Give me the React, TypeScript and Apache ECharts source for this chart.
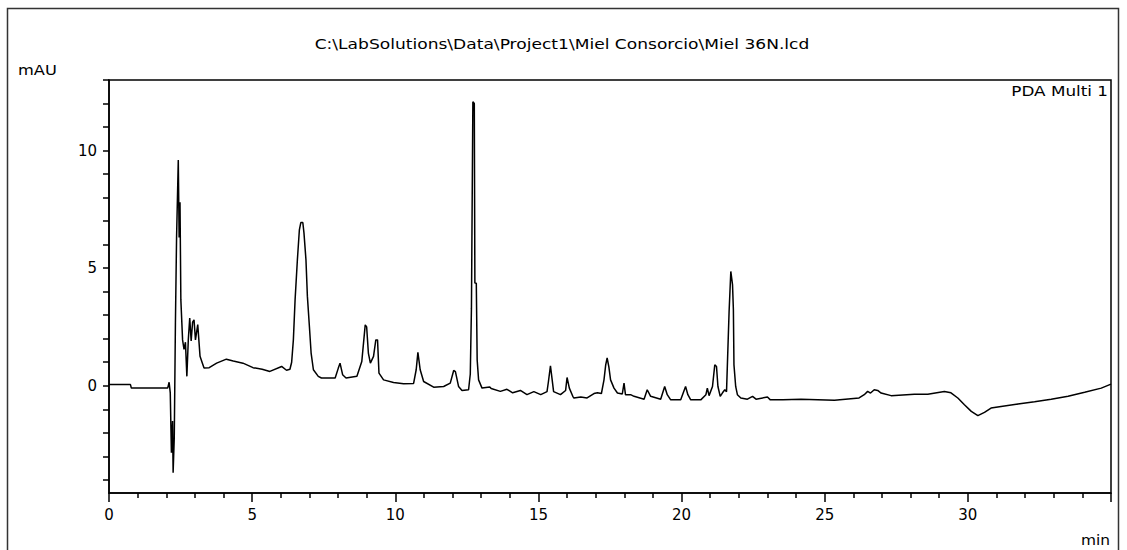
import React, { useEffect, useRef } from "react";
import * as echarts from "echarts";

const titleText = "C:\\LabSolutions\\Data\\Project1\\Miel Consorcio\\Miel 36N.lcd";
const yUnit = "mAU";
const xUnit = "min";
const channelLabel = "PDA Multi 1";

const xLabelValues = [0, 5, 10, 15, 20, 25, 30];
const yLabelValues = [0, 5, 10];
const yTickValues = [-4, -3, -2, -1, 0, 1, 2, 3, 4, 5, 6, 7, 8, 9, 10, 11, 12, 13];

const times = [
  0.0, 0.75, 0.78, 2.05, 2.1, 2.14, 2.18, 2.22, 2.24, 2.28, 2.32, 2.36, 2.42, 2.45, 2.48, 2.51,
  2.57, 2.62, 2.67, 2.72, 2.77, 2.82, 2.87, 2.92, 2.97, 3.02, 3.1, 3.18, 3.25, 3.32, 3.5, 3.76,
  4.1, 4.34, 4.68, 5.03, 5.35, 5.62, 6.03, 6.2, 6.32, 6.38, 6.44, 6.5, 6.58, 6.65, 6.7, 6.77,
  6.81, 6.88, 6.93, 7.0, 7.06, 7.14, 7.31, 7.42, 7.9, 8.01, 8.07, 8.16, 8.28, 8.66, 8.83, 8.89,
  8.95, 9.0, 9.06, 9.13, 9.24, 9.32, 9.38, 9.43, 9.59, 9.94, 10.29, 10.64, 10.73, 10.79, 10.87, 10.99,
  11.34, 11.69, 11.92, 12.04, 12.1, 12.21, 12.33, 12.56, 12.62, 12.66, 12.71, 12.76, 12.78, 12.83, 12.86, 12.91,
  13.03, 13.3, 13.35, 13.67, 13.9, 14.1, 14.37, 14.6, 14.84, 15.08, 15.3, 15.35, 15.42, 15.48, 15.53, 15.77,
  15.95, 16.0, 16.08, 16.2, 16.24, 16.48, 16.7, 16.94, 17.06, 17.2, 17.29, 17.35, 17.4, 17.46, 17.52, 17.64,
  17.76, 17.93, 17.99, 18.04, 18.22, 18.34, 18.69, 18.8, 18.92, 19.27, 19.41, 19.5, 19.62, 19.97, 20.14, 20.22,
  20.32, 20.67, 20.85, 20.9, 20.96, 21.08, 21.16, 21.22, 21.27, 21.35, 21.43, 21.51, 21.57, 21.66, 21.72, 21.78,
  21.81, 21.83, 21.89, 21.95, 22.07, 22.3, 22.48, 22.6, 23.0, 23.1, 23.54, 24.17, 25.34, 26.2, 26.38, 26.5,
  26.6, 26.73, 26.85, 26.97, 27.32, 28.13, 28.6, 29.18, 29.41, 29.65, 29.88, 30.12, 30.35, 30.58, 30.81, 31.16,
  31.75, 32.33, 32.91, 33.5, 34.08, 34.66, 35.0,
];

const absorbance = [
  0.05, 0.05, -0.1, -0.1, 0.15, -0.3, -2.85, -1.5, -3.7, -2.2, 2.66, 6.3, 9.6, 6.3, 7.8, 3.65,
  1.95, 1.55, 1.85, 0.4, 1.95, 2.88, 1.9, 2.7, 2.8, 1.95, 2.6, 1.25, 1.0, 0.75, 0.77, 0.96,
  1.13, 1.05, 0.96, 0.77, 0.7, 0.61, 0.82, 0.66, 0.7, 1.0, 1.95, 3.65, 5.35, 6.63, 6.94, 6.94,
  6.5, 5.35, 3.8, 2.52, 1.39, 0.68, 0.4, 0.33, 0.33, 0.75, 0.96, 0.47, 0.33, 0.4, 1.03, 1.81,
  2.59, 2.5, 1.39, 0.96, 1.25, 1.95, 1.95, 0.54, 0.25, 0.14, 0.09, 0.1, 0.68, 1.42, 0.68, 0.18,
  -0.06, -0.03, 0.11, 0.65, 0.6, -0.03, -0.2, -0.17, 0.5, 3.3, 12.08, 12.0, 4.37, 4.36, 1.1, 0.25,
  -0.1, -0.05, -0.12, -0.24, -0.15, -0.3, -0.2, -0.38, -0.25, -0.38, -0.25, 0.18, 0.85, 0.25, -0.25, -0.38,
  -0.2, 0.35, -0.1, -0.45, -0.52, -0.48, -0.52, -0.33, -0.3, -0.33, 0.25, 0.89, 1.18, 0.8, 0.25, -0.1,
  -0.31, -0.35, 0.11, -0.38, -0.38, -0.45, -0.57, -0.17, -0.45, -0.57, -0.03, -0.38, -0.6, -0.6, -0.03, -0.38,
  -0.6, -0.6, -0.38, -0.1, -0.42, -0.03, 0.89, 0.82, -0.03, -0.45, -0.3, -0.17, -0.25, 3.16, 4.86, 4.29,
  3.23, 0.89, -0.03, -0.38, -0.52, -0.57, -0.45, -0.57, -0.48, -0.6, -0.6, -0.57, -0.62, -0.52, -0.38, -0.24,
  -0.31, -0.17, -0.2, -0.31, -0.42, -0.36, -0.36, -0.24, -0.3, -0.52, -0.81, -1.09, -1.27, -1.13, -0.95, -0.88,
  -0.78, -0.68, -0.57, -0.45, -0.28, -0.1, 0.07,
];

const FONT = "DejaVu Sans";

export default function App() {
  const ref = useRef<HTMLDivElement>(null);

  useEffect(() => {
    document.body.style.margin = "0";
    if (!ref.current) return;
    const chart = echarts.init(ref.current, null, { renderer: "svg" });
    const data = times.map((t, i) => [t, absorbance[i]]);
    const textStyle = (text: string, align: string) => ({
      text,
      fill: "#000",
      font: `14px '${FONT}'`,
      textAlign: align,
      textVerticalAlign: "middle",
    });

    chart.setOption({
      animation: false,
      backgroundColor: "#ffffff",
      grid: {
        left: 109,
        right: 16,
        top: 80,
        bottom: 57,
        show: true,
        borderColor: "#000",
        borderWidth: 1.5,
        containLabel: false,
      },
      xAxis: {
        type: "value",
        min: 0,
        max: 35,
        interval: 5,
        axisLine: { show: true, onZero: false, lineStyle: { color: "#000", width: 1.5 } },
        axisTick: { show: true, length: 9, lineStyle: { color: "#000", width: 1.5 } },
        minorTick: { show: true, splitNumber: 5, length: 5, lineStyle: { color: "#000", width: 1.5 } },
        axisLabel: {
          customValues: xLabelValues,
          color: "#000",
          fontFamily: FONT,
          fontSize: 15,
          margin: 14,
        },
        splitLine: { show: false },
        minorSplitLine: { show: false },
      },
      yAxis: {
        type: "value",
        min: -4.56,
        max: 13,
        axisLine: { show: true, onZero: false, lineStyle: { color: "#000", width: 1.5 } },
        axisTick: { show: true, customValues: yTickValues, length: 6, lineStyle: { color: "#000", width: 1.5 } },
        axisLabel: {
          customValues: yLabelValues,
          color: "#000",
          fontFamily: FONT,
          fontSize: 15,
          margin: 12,
        },
        splitLine: { show: false },
      },
      graphic: [
        {
          type: "rect",
          shape: { x: 7.5, y: 8.5, width: 1111, height: 560 },
          style: { fill: "none", stroke: "#333", lineWidth: 1.5 },
          silent: true,
        },
        { type: "text", x: 562, y: 45, scaleX: 1.22, style: textStyle(titleText, "center") },
        { type: "text", x: 18, y: 70, scaleX: 1.16, style: textStyle(yUnit, "left") },
        { type: "text", x: 1108, y: 91, scaleX: 1.2, style: textStyle(channelLabel, "right") },
        { type: "text", x: 1110, y: 540, scaleX: 1.1, style: textStyle(xUnit, "right") },
      ],
      series: [
        {
          type: "line",
          data,
          showSymbol: false,
          symbol: "none",
          smooth: false,
          lineStyle: { color: "#000", width: 1.5 },
          clip: true,
        },
      ],
    });

    return () => chart.dispose();
  }, []);

  return <div ref={ref} style={{ width: 1127, height: 550 }} />;
}
